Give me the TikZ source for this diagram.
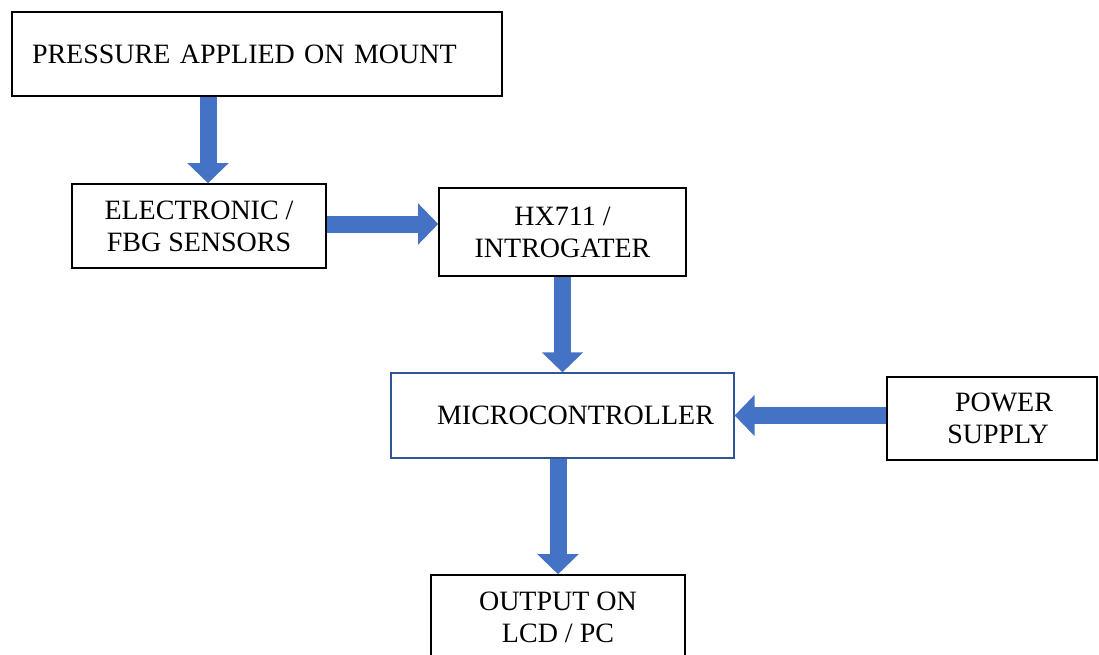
\documentclass[tikz,border=0pt]{standalone}
\usepackage{fontspec}
\setmainfont{Liberation Serif}
\usepackage{tikz}
\usetikzlibrary{positioning,arrows.meta}

\definecolor{flowblue}{HTML}{4472C4}
\definecolor{edgeblue}{HTML}{2F5597}

\begin{document}
\begin{tikzpicture}[x=1pt, y=-1pt,
    blockbox/.style={draw=black, line width=1.6pt, align=center, inner sep=0pt, font=\fontsize{28}{32}\selectfont},
    ctrlbox/.style={blockbox, draw=edgeblue, line width=1.2pt},
    flow/.style={draw=flowblue, line width=17pt, -{Triangle[width=40pt, length=20pt]}}]
    % Page size
    \useasboundingbox (0,0) rectangle (1099,655);

    % Blocks
    \node[blockbox, minimum width=490pt, minimum height=84pt, text width=450pt, align=left] (pressure) at (257,54) {PRESSURE APPLIED ON MOUNT};
    \node[blockbox, minimum width=254pt, minimum height=84pt] (sensors) at (199,226) {ELECTRONIC /\\FBG SENSORS};
    \node[blockbox, minimum width=247pt, minimum height=88pt] (hx) at (562.5,232) {HX711 /\\INTROGATER};
    \node[ctrlbox, minimum width=343pt, minimum height=85pt] (micro) at (562.5,415.5) {\hspace*{26pt}MICROCONTROLLER};
    \node[blockbox, minimum width=210pt, minimum height=83pt] (power) at (992,418.5) {\hspace*{24pt}POWER\\\hspace*{12pt}SUPPLY};
    \node[blockbox, minimum width=254pt, minimum height=84pt] (output) at (558,617) {OUTPUT ON\\LCD / PC};

    % Flow arrows
    \draw[flow] ([xshift=9pt]sensors.north |- pressure.south) -- ([xshift=9pt]sensors.north);
    \draw[flow] ([yshift=2pt]sensors.east) -- ([yshift=2pt]sensors.east -| hx.west);
    \draw[flow] (hx.south) -- (hx.south |- micro.north);
    \draw[flow] (micro.east -| power.west) -- (micro.east);
    \draw[flow] (micro.south -| output.north) -- (output.north);

\end{tikzpicture}
\end{document}
